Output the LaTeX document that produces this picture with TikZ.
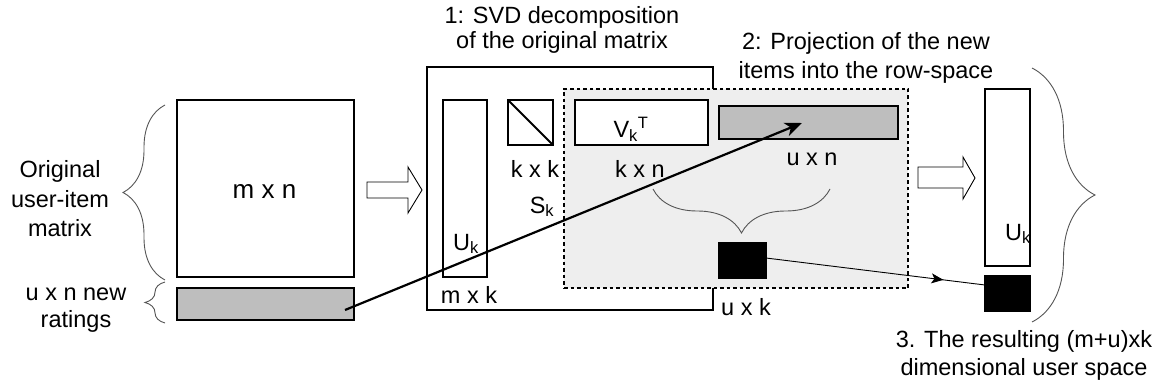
\documentclass[tikz,border=0pt]{standalone}
\usepackage{fontspec}
\setmainfont{Liberation Sans}
\usetikzlibrary{decorations.pathreplacing,decorations.markings,arrows.meta}
\definecolor{bargray}{HTML}{BEBEBE}
\definecolor{projgray}{HTML}{EEEEEE}
\definecolor{bracegray}{HTML}{555555}
\begin{document}
\begin{tikzpicture}[x=1pt,y=-1pt,
  every node/.style={font=\fontsize{23.5}{28}\selectfont, inner sep=0pt, outer sep=0pt},
  mat/.style={draw, line width=1.8pt, inner sep=0pt, outer sep=0pt},
  lbl/.style={anchor=base},
  bracestyle/.style={draw=bracegray, line width=0.9pt, decorate, decoration={brace, amplitude=#1}},
  block/.style={draw, line width=0.9pt, fill=white, line join=miter},
  bigarrow/.style={line width=2.2pt, -{Stealth[length=17pt,width=14pt,inset=5pt]}},
  thinarrow/.style={line width=0.9pt, postaction={decorate},
    decoration={markings, mark=at position 0.81 with {\arrow{Stealth[length=12pt,width=10pt,inset=3pt]}}}},
]
\useasboundingbox (0,0) rectangle (1154,385);

% left matrices
\node[mat, minimum width=177pt, minimum height=177pt] (mn) at (265.5,188.5) {};
\node[mat, fill=bargray, minimum width=177pt, minimum height=32pt] (newr) at (265.5,304) {};

% SVD box
\node[mat, minimum width=286pt, minimum height=243pt] (svd) at (570,188.5) {};
\node[mat, minimum width=44pt, minimum height=177pt] (uk) at (465,188.5) {};
\node[mat, minimum width=45pt, minimum height=45pt] (sk) at (530.5,122.5) {};
\draw[line width=1.8pt] (sk.north west) -- (sk.south east);

% projection region
\node[draw, line width=1.8pt, dash pattern=on 3.5pt off 3pt, fill=projgray,
      minimum width=344pt, minimum height=199pt] (proj) at (736,188.5) {};
\node[mat, fill=white, minimum width=133pt, minimum height=45pt] (vk) at (641.5,122.5) {};
\node[mat, fill=bargray, minimum width=179pt, minimum height=33pt] (uxn) at (808.5,122.5) {};
\node[mat, fill=black, minimum width=47pt, minimum height=35pt] (b1) at (742.5,260.5) {};

% result
\node[mat, minimum width=45pt, minimum height=177pt] (uk2) at (1007.5,177.5) {};
\node[mat, fill=black, minimum width=45pt, minimum height=35pt] (b2) at (1007.5,293.5) {};

% braces
\draw[bracestyle=42] (165,280) -- (165,105);
\draw[bracestyle=20] (165,323) -- (165,282);
\draw[bracestyle=44] (830,189) -- (653,189);
\draw[bracestyle=63] (1032,68) -- (1032,322);

% block arrows
\draw[block] (367,182) -- (408,182) -- (408,167) -- (422,190) -- (408,213) -- (408,198) -- (367,198) -- cycle;
\draw[block] (918,167) -- (963,167) -- (963,157) -- (975,178) -- (963,199) -- (963,188) -- (918,188) -- cycle;

% labels
\node[lbl, font=\fontsize{26}{30}\selectfont] (lmn) at (264.5,198) {m x n};
\node[lbl] (lmk) at (469,303) {m x k};
\node[lbl] (lkk) at (535,177) {k x k};
\node[lbl] (lkn) at (640,177) {k x n};
\node[lbl] (lsk) at (542,213) {S\textsubscript{k}};
\node[lbl] (luk) at (466,250) {U\textsubscript{k}};
\node[lbl] (lvk) at (631,138) {V\textsubscript{k}\textsuperscript{T}};
\node[lbl] (lun) at (812,165) {u x n};
\node[lbl] (luxk) at (746,315) {u x k};
\node[lbl] (lu2) at (1018,240) {U\textsubscript{k}};

\node[align=center, font=\fontsize{23.5}{29.5}\selectfont] (orig) at (60,199) {Original\\user-item\\matrix};
\node[align=center, font=\fontsize{23.5}{27}\selectfont] (newlbl) at (76,310) {u x n new\\ratings};
\node[align=center, font=\fontsize{23.5}{25}\selectfont] (t1) at (562,30) {1: SVD decomposition\\of the original matrix};
\node[align=center, font=\fontsize{23.5}{29}\selectfont] (t2) at (866,57.5) {2: Projection of the new\\items into the row-space};
\node[align=center, font=\fontsize{23.5}{28}\selectfont] (t3) at (1024,355) {3. The resulting (m+u)xk\\dimensional user space};

% connectors
\coordinate (a0) at (345,310);
\coordinate (a1) at (802,123);
\draw[bigarrow] (a0) -- (a1);
\draw[thinarrow] (b1.east |- 0,258) -- (b2.west |- 0,285);
\end{tikzpicture}
\end{document}
